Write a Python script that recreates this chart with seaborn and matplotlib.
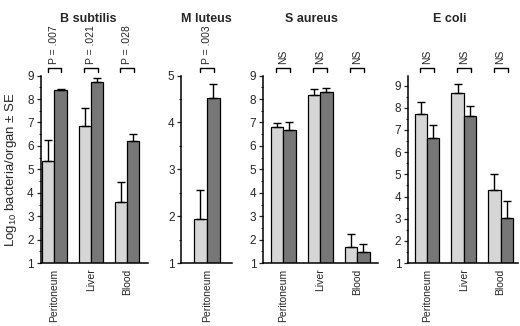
import numpy as np
import pandas as pd
import seaborn as sns
import matplotlib.pyplot as plt
from matplotlib.ticker import MultipleLocator

# ========================================
# Data (log10 bacteria/organ, SE)
# ========================================
organs = ["Peritoneum", "Liver", "Blood"]
groups = ["group 1", "group 2"]

bsub_g1 = [5.37, 6.85, 3.60]
bsub_g1_se = [0.87, 0.77, 0.87]
bsub_g2 = [8.37, 8.73, 6.20]
bsub_g2_se = [0.08, 0.16, 0.29]
bsub_p = ["P = .007", "P = .021", "P = .028"]

mlut_g1 = [1.93]
mlut_g1_se = [0.64]
mlut_g2 = [4.52]
mlut_g2_se = [0.31]
mlut_p = ["P = .003"]

saur_g1 = [6.82, 8.17, 1.67]
saur_g1_se = [0.14, 0.24, 0.57]
saur_g2 = [6.66, 8.30, 1.46]
saur_g2_se = [0.34, 0.17, 0.34]
saur_p = ["NS", "NS", "NS"]

ecol_g1 = [7.73, 8.67, 4.30]
ecol_g1_se = [0.52, 0.41, 0.72]
ecol_g2 = [6.63, 7.61, 3.01]
ecol_g2_se = [0.60, 0.45, 0.81]
ecol_p = ["NS", "NS", "NS"]

colors = {"group 1": "#d6d6d6", "group 2": "#777777"}


def make_df(cats, g1, g1_se, g2, g2_se):
    return pd.DataFrame({
        "organ": list(cats) * 2,
        "group": [groups[0]] * len(cats) + [groups[1]] * len(cats),
        "value": list(g1) + list(g2),
        "se": list(g1_se) + list(g2_se),
    })


panels = [
    ("B subtilis", organs, make_df(organs, bsub_g1, bsub_g1_se, bsub_g2, bsub_g2_se), bsub_p),
    ("M luteus", organs[:1], make_df(organs[:1], mlut_g1, mlut_g1_se, mlut_g2, mlut_g2_se), mlut_p),
    ("S aureus", organs, make_df(organs, saur_g1, saur_g1_se, saur_g2, saur_g2_se), saur_p),
    ("E coli", organs, make_df(organs, ecol_g1, ecol_g1_se, ecol_g2, ecol_g2_se), ecol_p),
]

# layout: [left, bottom, width, height], xlim, ylim, title x, bar width
layout = [
    ([0.078, 0.193, 0.206, 0.575], (-0.38, 2.56), (1, 9), 0.445, 0.67),
    ([0.349, 0.193, 0.098, 0.575], (-0.70, 0.71), (1, 5), 0.48, 0.72),
    ([0.506, 0.193, 0.221, 0.575], (-0.54, 2.56), (1, 9), 0.42, 0.67),
    ([0.785, 0.193, 0.211, 0.575], (-0.51, 2.47), (1, 9.45), 0.38, 0.67),
]

# ========================================
# Plot
# ========================================
sns.set_style("ticks")
plt.rcParams['font.family'] = ['Liberation Sans', 'DejaVu Sans']
plt.rcParams['mathtext.default'] = 'regular'

fig = plt.figure(figsize=(5.2, 3.26), dpi=100)

for i, ((title, cats, df, pvals), (rect, xlim, ylim, tx, bw)) in enumerate(zip(panels, layout)):
    ax = fig.add_axes(rect)
    sns.barplot(data=df, x="organ", y="value", hue="group", order=cats,
                hue_order=groups, palette=colors, width=bw, gap=0,
                errorbar=None, edgecolor="black", linewidth=0.9,
                legend=False, ax=ax)

    # upward-only SE bars, placed on the drawn bars
    centers = {}
    for patch in ax.patches:
        h = patch.get_height()
        row = df[np.isclose(df["value"], h)]
        if row.empty:
            continue
        xc = patch.get_x() + patch.get_width() / 2
        centers.setdefault(row["organ"].iloc[0], []).append(xc)
        ax.errorbar(xc, h, yerr=[[0], [row["se"].iloc[0]]], fmt="none",
                    ecolor="black", elinewidth=1, capsize=3, capthick=1, zorder=1)

    ax.set_xlim(*xlim)
    ax.set_ylim(*ylim)
    ax.yaxis.set_major_locator(MultipleLocator(1))
    ax.yaxis.set_minor_locator(MultipleLocator(0.5))
    ax.tick_params(axis="y", which="major", length=3, width=0.9, labelsize=8.5, pad=2)
    ax.tick_params(axis="y", which="minor", length=1.5, width=0.8)
    ax.tick_params(axis="x", length=0, labelsize=7.5, pad=4)
    for lab in ax.get_xticklabels():
        lab.set_rotation(90)
    ax.set_xlabel("")
    ax.set_ylabel("")
    sns.despine(ax=ax)
    for sp in ["left", "bottom"]:
        ax.spines[sp].set_linewidth(1.1)
        ax.spines[sp].set_color("black")

    ax.set_title(title, x=tx, y=1.26, va="center", fontsize=9, fontweight="bold")

    # significance brackets and labels above each group
    trans = ax.get_xaxis_transform()
    for k, (cat, p) in enumerate(zip(cats, pvals)):
        xs = sorted(centers[cat])
        x1, x2 = xs[0] - 0.02, xs[-1] + 0.02
        ax.plot([x1, x1, x2, x2], [1.02, 1.04, 1.04, 1.02], transform=trans,
                color="black", lw=1, clip_on=False)
        ax.text(k, 1.062, p, transform=trans, rotation=90,
                ha="center", va="bottom", fontsize=7.5)

    if i == 0:
        ax.set_ylabel("Log$_{10}$ bacteria/organ ± SE", fontsize=9.5)
        ax.yaxis.set_label_coords(-0.20, 0.5)

plt.savefig("out.png", dpi=100)
